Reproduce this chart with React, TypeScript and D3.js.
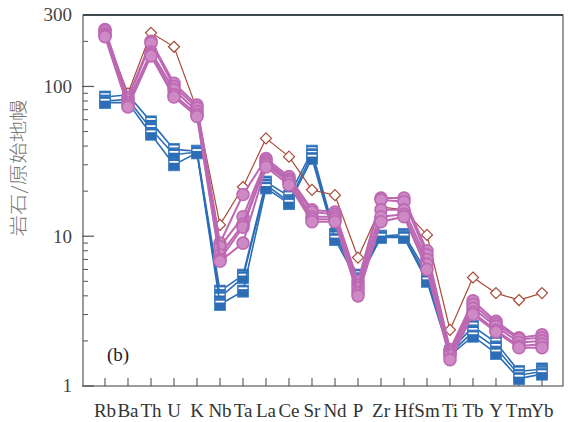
import React from 'react';
import * as d3 from 'd3';

// primitive-mantle normalised spider diagram
const elements = ['Rb', 'Ba', 'Th', 'U', 'K', 'Nb', 'Ta', 'La', 'Ce', 'Sr', 'Nd', 'P', 'Zr', 'Hf', 'Sm', 'Ti', 'Tb', 'Y', 'Tm', 'Yb'];

const brownSeries = [225, 90, 228, 184, 70, 11.9, 21.3, 45, 34, 20.4, 18.8, 7.2, 15.7, 15, 10.2, 2.37, 5.3, 4.17, 3.75, 4.17];

const purple1 = [240, 85, 200, 105, 75, 9, 19, 33, 25, 15, 14.5, 5, 18, 18, 8, 1.75, 3.7, 2.7, 2.1, 2.2];
const purple2 = [235, 82, 195, 100, 72, 8.5, 13.5, 32, 24, 14.5, 14, 4.7, 17.5, 17, 7.5, 1.7, 3.5, 2.6, 2.05, 2.1];
const purple3 = [225, 78, 170, 95, 68, 7.5, 12, 31, 23.5, 13.5, 13.5, 4.5, 15, 15, 7, 1.65, 3.3, 2.5, 1.95, 2.0];
const purple4 = [220, 75, 165, 88, 65, 7, 11.5, 30, 23, 13, 13, 4.2, 13.5, 14, 6.5, 1.6, 3.1, 2.35, 1.85, 1.9];
const purple5 = [215, 73, 160, 85, 63, 6.8, 9, 29, 22, 12.5, 12.5, 4.0, 12.5, 13.5, 6, 1.5, 3.0, 2.3, 1.8, 1.8];

const blue1 = [85, 88, 58, 38, 37, 4.3, 5.5, 23, 18.5, 37, 10.3, 5.5, 10, 10.3, 5.7, 1.7, 2.5, 1.95, 1.25, 1.3];
const blue2 = [80, 82, 52, 35, 36.5, 3.9, 5.3, 22, 17, 35, 10, 5.2, 10, 10, 5.3, 1.65, 2.3, 1.8, 1.18, 1.25];
const blue3 = [78, 78, 48, 30, 36, 3.5, 4.3, 21, 16.5, 33, 9.5, 5.0, 9.8, 9.8, 5.0, 1.6, 2.15, 1.65, 1.12, 1.2];

const yTickLabels = [1, 10, 100, 300];

const purpleSeries = [purple1, purple2, purple3, purple4, purple5];
const blueSeries = [blue1, blue2, blue3];

const BROWN = '#a84a38';
const PURPLE = '#bd68b3';
const BLUE = '#2c6db5';

const App = () => {
  const width = 571;
  const height = 422;
  const left = 83;
  const right = 563;
  const top = 15;
  const bottom = 386;

  const x = d3.scalePoint<string>().domain(elements).range([105, 542]);
  const y = d3.scaleLog().domain([1, 300]).range([bottom, top]);

  const line = d3
    .line<number>()
    .x((d, i) => x(elements[i]) as number)
    .y((d) => y(d));

  // minor ticks 2..9, 20..90, 200
  const minor: number[] = [];
  [1, 10, 100].forEach((base) => {
    for (let k = 2; k <= 9; k++) {
      if (base * k < 300) minor.push(base * k);
    }
  });

  const font = '"Liberation Serif", "DejaVu Serif", serif';

  return (
    <svg
      width={width}
      height={height}
      style={{ position: 'absolute', left: 0, top: 0, background: '#fff' }}
    >
      {/* frame */}
      <rect x={left} y={top} width={right - left} height={bottom - top} fill="none" stroke="#5a5a5a" strokeWidth={1.2} />
      <line x1={left} x2={right} y1={top} y2={top} stroke="#3c4a4e" strokeWidth={2.2} />

      {/* y ticks */}
      {yTickLabels.filter((v) => v !== 300).map((v) => (
        <line key={'M' + v} x1={left - 1} x2={left + 11} y1={y(v)} y2={y(v)} stroke="#555" strokeWidth={1.2} />
      ))}
      {minor.map((v) => (
        <line key={'m' + v} x1={left} x2={left + 5} y1={y(v)} y2={y(v)} stroke="#555" strokeWidth={1} />
      ))}
      {yTickLabels.map((v) => (
        <text
          key={'t' + v}
          x={72}
          y={y(v)}
          dy="0.34em"
          textAnchor="end"
          fontFamily={font}
          fontSize={19}
          fill="#444"
        >
          {v}
        </text>
      ))}

      {/* x ticks */}
      {elements.map((e) => (
        <g key={e}>
          <line x1={x(e)} x2={x(e)} y1={bottom} y2={bottom - 8} stroke="#555" strokeWidth={1.1} />
          <text x={x(e)} y={417} textAnchor="middle" fontFamily={font} fontSize={19} fill="#333">
            {e}
          </text>
        </g>
      ))}

      {/* y label */}
      <text
        transform="translate(25,168) rotate(-90)"
        textAnchor="middle"
        fontFamily='"Noto Sans CJK SC", sans-serif'
        fontSize={18}
        fontWeight={300}
        fill="#777"
        textLength={137}
        lengthAdjust="spacingAndGlyphs"
      >
        岩石/原始地幔
      </text>

      <text x={107} y={361} fontFamily={font} fontSize={19} fill="#222">
        (b)
      </text>

      {/* blue series */}
      {blueSeries.map((s, si) => (
        <g key={'b' + si}>
          <path d={line(s) || ''} fill="none" stroke={BLUE} strokeWidth={1.6} />
          {s.map((v, i) => {
            const cx = x(elements[i]) as number;
            const cy = y(v);
            return (
              <g key={i}>
                <rect x={cx - 5.5} y={cy - 6} width={11} height={12} fill={BLUE} stroke="#3f7fc4" strokeWidth={0.8} />
                <rect x={cx - 4.5} y={cy - 3.8} width={9} height={1.8} fill="#fff" />
              </g>
            );
          })}
        </g>
      ))}

      {/* brown series, drawn under the circles */}
      <path d={line(brownSeries) || ''} fill="none" stroke={BROWN} strokeWidth={1.2} />
      {brownSeries.map((v, i) => {
        const cx = x(elements[i]) as number;
        const cy = y(v);
        const r = 5.5;
        return (
          <path
            key={i}
            d={`M${cx},${cy - r}L${cx + r},${cy}L${cx},${cy + r}L${cx - r},${cy}Z`}
            fill="#fff"
            stroke={BROWN}
            strokeWidth={1.2}
          />
        );
      })}

      {/* purple series */}
      {purpleSeries.map((s, si) => (
        <g key={'p' + si}>
          <path d={line(s) || ''} fill="none" stroke={PURPLE} strokeWidth={2} />
          {s.map((v, i) => (
            <circle
              key={i}
              cx={x(elements[i]) as number}
              cy={y(v)}
              r={6}
              fill="#cd8ac5"
              stroke={PURPLE}
              strokeWidth={1.6}
            />
          ))}
        </g>
      ))}
    </svg>
  );
};

export default App;
